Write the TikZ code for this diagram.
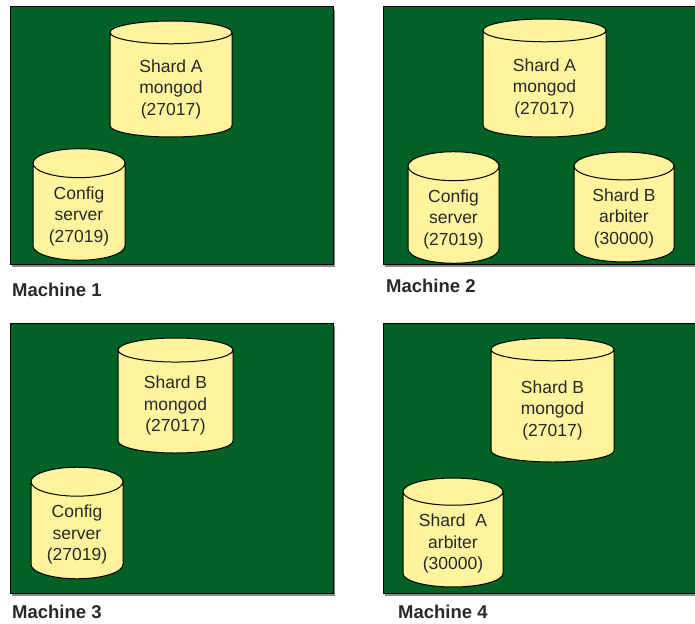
\documentclass[tikz,border=0pt]{standalone}
\usepackage{fontspec}
\setmainfont{Liberation Sans}
\usetikzlibrary{shapes.geometric,shadows}
\definecolor{boardgreen}{RGB}{2,97,37}
\definecolor{diskyellow}{RGB}{255,244,158}
\definecolor{inkgray}{RGB}{40,40,40}
\newcommand{\toppad}{\rule{0pt}{21pt}}

\begin{document}
\begin{tikzpicture}[x=1pt,y=-1pt]
    \tikzset{machine/.style = {draw=black, line width=1pt, fill=boardgreen,
        drop shadow={shadow xshift=2pt, shadow yshift=-3pt, fill=black, opacity=.45}}}
    \tikzset{disk/.style = {shape=cylinder, shape border rotate=90, draw=black,
        line width=1pt, fill=diskyellow, text=inkgray, align=center, inner sep=0pt,
        anchor=shape center, font=\fontsize{17.5}{21.5}\selectfont}}
    \tikzset{caption/.style = {anchor=west, inner sep=0pt, text=inkgray,
        font=\fontsize{18.5}{18.5}\selectfont\bfseries}}
    \useasboundingbox (0,0) rectangle (695,623);
    \clip (0,0) rectangle (695,623);
    % machines
    \draw[machine] (10,7) rectangle (333,264);
    \draw[machine] (383,7) rectangle (720,264);
    \draw[machine] (10,323) rectangle (333,593);
    \draw[machine] (383,323) rectangle (720,593);
    % processes
    \node[disk, minimum width=122pt, minimum height=116pt, aspect=0.36] (m1a) at (171,79) {\toppad Shard A\\mongod\\(27017)};
    \node[disk, minimum width=92pt, minimum height=93pt, aspect=0.48] (m1c) at (79,204.5) {\toppad Config\\server\\(27019)};
    \node[disk, minimum width=123pt, minimum height=118pt, aspect=0.36] (m2a) at (544.5,78) {\toppad Shard A\\mongod\\(27017)};
    \node[disk, minimum width=91pt, minimum height=89pt, aspect=0.48] (m2c) at (453.5,207.5) {\toppad Config\\server\\(27019)};
    \node[disk, minimum width=100pt, minimum height=90pt, aspect=0.44] (m2b) at (624,207) {\toppad Shard B\\arbiter\\(30000)};
    \node[disk, minimum width=115pt, minimum height=115pt, aspect=0.38] (m3b) at (175.5,395.5) {\toppad Shard B\\mongod\\(27017)};
    \node[disk, minimum width=92pt, minimum height=94pt, aspect=0.48] (m3c) at (77,523) {\toppad Config\\server\\(27019)};
    \node[disk, minimum width=123pt, minimum height=124pt, aspect=0.36] (m4b) at (552.5,400) {\toppad Shard B\\mongod\\(27017)};
    \node[disk, minimum width=100pt, minimum height=91pt, aspect=0.40] (m4a) at (453,532.5) {\toppad Shard\ \ A\\arbiter\\(30000)};
    % labels
    \node[caption] (l1) at (12,290) {Machine 1};
    \node[caption] (l2) at (386,286) {Machine 2};
    \node[caption] (l3) at (12,612) {Machine 3};
    \node[caption] (l4) at (398,612) {Machine 4};
\end{tikzpicture}
\end{document}
